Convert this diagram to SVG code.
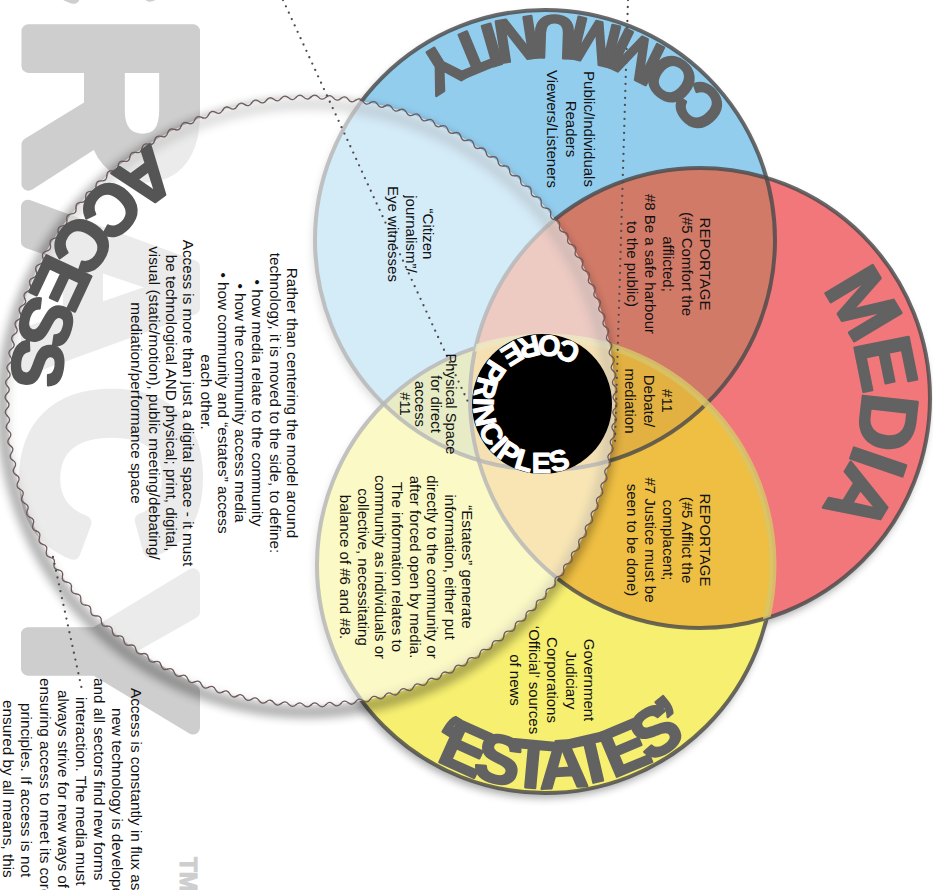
<svg xmlns="http://www.w3.org/2000/svg" width="933" height="890" viewBox="0 0 933 890">
<defs>
<style>
.txt{font-family:"Liberation Sans",Arial,Helvetica,sans-serif;font-size:15px;fill:#111}
.lbl{font-family:"Liberation Sans",Arial,Helvetica,sans-serif;font-weight:bold;fill:#626262;stroke:#626262;stroke-width:2.4;stroke-linejoin:round}
.wm{font-family:"Liberation Sans",Arial,Helvetica,sans-serif;font-weight:bold;fill:#cecece;stroke:#cecece;stroke-width:14;stroke-linejoin:round}
.ring{fill:none;stroke:#4a4a4a;stroke-opacity:.82;stroke-width:4}
.wave{fill:none;stroke:#6e5a5a;stroke-width:1.3;stroke-linecap:round}
.dots{fill:none;stroke:#4d4d4d;stroke-width:2.3;stroke-linecap:round;stroke-dasharray:0 7}
</style>
<clipPath id="cpBlue"><circle cx="545" cy="240" r="230"/></clipPath>
<clipPath id="cpRed"><circle cx="700" cy="398" r="230"/></clipPath>
<mask id="notRed"><rect width="933" height="890" fill="#fff"/><circle cx="700" cy="398" r="232" fill="#000"/></mask>
<filter id="soft" x="-20%" y="-20%" width="140%" height="140%"><feGaussianBlur stdDeviation="4"/></filter>
<filter id="lensBlur" x="-20%" y="-20%" width="140%" height="140%"><feGaussianBlur stdDeviation="5"/></filter>
<!-- one period of the wavy lens rim, repeated by rotation -->
<path id="w1" class="wave" d="M615,401 Q618.97,404.78 614.91,408.46 Q610.80,412.04 614.63,415.92"/>
<g id="w2"><use href="#w1"/><use href="#w1" transform="rotate(2.8125 311 401)"/></g>
<g id="w4"><use href="#w2"/><use href="#w2" transform="rotate(5.625 311 401)"/></g>
<g id="w8"><use href="#w4"/><use href="#w4" transform="rotate(11.25 311 401)"/></g>
<g id="w16"><use href="#w8"/><use href="#w8" transform="rotate(22.5 311 401)"/></g>
<g id="w32"><use href="#w16"/><use href="#w16" transform="rotate(45 311 401)"/></g>
<g id="w64"><use href="#w32"/><use href="#w32" transform="rotate(90 311 401)"/></g>
<g id="w128"><use href="#w64"/><use href="#w64" transform="rotate(180 311 401)"/></g>
<!-- label baselines -->
<path id="pCommunity" d="M729.3,109.7 A221,221 0 0 0 402.9,70.7"/>
<path id="pMedia" d="M820.3,290.4 A162,162 0 0 1 824.1,502.1"/>
<path id="pEstates" d="M424.5,752.9 A223,223 0 0 0 715.8,708.3"/>
<path id="pAccess" d="M152,144 A300,300 0 0 0 12.1,427.1"/>
<path id="pCore" d="M581.6,347.5 A69,69 0 0 0 502.4,460.5 A69,69 0 0 0 581.6,460.5"/>
</defs>

<rect width="933" height="890" fill="#fff"/>

<!-- background watermark -->
<g id="watermark">
<text class="wm" font-size="240" letter-spacing="12" transform="translate(28,-938) rotate(90)">DEMOCRACY</text>
<text class="wm" font-size="24" style="stroke-width:1" transform="translate(180,857) rotate(90)">TM</text>
</g>

<!-- venn circles -->
<g id="circle-shadow" filter="url(#soft)" opacity=".35" transform="translate(-2,5)">
<circle cx="545" cy="240" r="230"/><circle cx="700" cy="398" r="230"/><circle cx="545" cy="565" r="228"/>
</g>
<g id="community">
<circle cx="545" cy="240" r="230" fill="#93cdee"/>
</g>
<g id="media">
<circle cx="700" cy="398" r="230" fill="#f1777a"/>
</g>
<g id="estates">
<circle cx="545" cy="565" r="228" fill="#f6ef70"/>
</g>
<g id="overlaps">
<g clip-path="url(#cpBlue)"><circle cx="700" cy="398" r="230" fill="#d17a68"/></g>
<g clip-path="url(#cpRed)"><circle cx="545" cy="565" r="228" fill="#efbf43"/></g>
<g clip-path="url(#cpBlue)"><circle cx="545" cy="565" r="228" fill="#c4cf72"/></g>
<g clip-path="url(#cpBlue)"><g clip-path="url(#cpRed)"><circle cx="545" cy="565" r="228" fill="#e3b142"/></g></g>
</g>
<g id="rings">
<circle class="ring" cx="545" cy="240" r="230"/>
<circle class="ring" cx="700" cy="398" r="230"/>
<circle class="ring" cx="545" cy="565" r="228" mask="url(#notRed)"/>
<g clip-path="url(#cpRed)"><circle cx="545" cy="565" r="228" fill="none" stroke="#d6c468" stroke-width="7" stroke-opacity=".85"/></g>
</g>

<!-- access lens -->
<g id="access">
<circle cx="311" cy="401" r="304" fill="none" stroke="#000" stroke-width="12" opacity=".32" filter="url(#lensBlur)" transform="translate(-4,7)"/>
<circle cx="311" cy="401" r="304" fill="#fff" fill-opacity=".6"/>
<use href="#w128"/>
</g>

<!-- dotted leader lines -->
<g id="connectors">
<line class="dots" x1="283" y1="0" x2="468" y2="402"/>
<line class="dots" x1="628" y1="0" x2="615" y2="442"/>
<line class="dots" x1="53" y1="557" x2="82" y2="690"/>
</g>

<!-- core -->
<g id="core">
<circle cx="542" cy="404" r="70" fill="#000"/>
<text class="lbl" font-size="29" letter-spacing="1.5" style="fill:#fff;stroke:#fff;stroke-width:1"><textPath href="#pCore">CORE PRINCIPLES</textPath></text>
</g>

<!-- circle titles -->
<g id="titles">
<text class="lbl" font-size="61" letter-spacing="-2.5"><textPath href="#pCommunity">COMMUNITY</textPath></text>
<text class="lbl" font-size="80" letter-spacing="-5"><textPath href="#pMedia">MEDIA</textPath></text>
<text class="lbl" font-size="68" letter-spacing="-6"><textPath href="#pEstates">‘ESTATES’</textPath></text>
<text class="lbl" font-size="72" letter-spacing="-2" style="fill:#555;stroke:#555"><textPath href="#pAccess">ACCESS</textPath></text>
</g>

<!-- region texts (rotated a quarter turn) -->
<g id="t-community">
<text class="txt" text-anchor="middle" transform="translate(584,129) rotate(90)"><tspan x="0" y="0">Public/Individuals</tspan><tspan x="0" y="18.5">Readers</tspan><tspan x="0" y="37">Viewers/Listeners</tspan></text>
</g>
<g id="t-reportage-1">
<text class="txt" text-anchor="middle" transform="translate(700,264) rotate(90)"><tspan x="0" y="0">REPORTAGE</tspan><tspan x="0" y="18.3">(#5 Comfort the</tspan><tspan x="0" y="36.6">afflicted;</tspan><tspan x="0" y="54.9">#8 Be a safe harbour</tspan><tspan x="0" y="73.2">to the public)</tspan></text>
</g>
<g id="t-debate">
<text class="txt" text-anchor="middle" transform="translate(662,401) rotate(90)"><tspan x="0" y="0">#11</tspan><tspan x="0" y="18.5">Debate/</tspan><tspan x="0" y="37">mediation</tspan></text>
</g>
<g id="t-reportage-2">
<text class="txt" text-anchor="middle" transform="translate(700,540) rotate(90)"><tspan x="0" y="0">REPORTAGE</tspan><tspan x="0" y="18.3">(#5 Afflict the</tspan><tspan x="0" y="36.6">complacent;</tspan><tspan x="0" y="54.9">#7 Justice must be</tspan><tspan x="0" y="73.2">seen to be done)</tspan></text>
</g>
<g id="t-estates">
<text class="txt" text-anchor="middle" transform="translate(584,680) rotate(90)"><tspan x="0" y="0">Government</tspan><tspan x="0" y="18.5">Judiciary</tspan><tspan x="0" y="37">Corporations</tspan><tspan x="0" y="55.5">‘Official’ sources</tspan><tspan x="0" y="74">of news</tspan></text>
</g>
<g id="t-citizen">
<text class="txt" text-anchor="middle" transform="translate(423,234) rotate(90)"><tspan x="0" y="0">“Citizen</tspan><tspan x="0" y="17.5">journalism”/</tspan><tspan x="0" y="35">Eye witnesses</tspan></text>
</g>
<g id="t-physical">
<text class="txt" text-anchor="middle" transform="translate(446,404) rotate(90)" style="font-size:14.8px"><tspan x="0" y="0">Physical Space</tspan><tspan x="0" y="15.5">for direct</tspan><tspan x="0" y="31">access</tspan><tspan x="0" y="46.5">#11</tspan></text>
</g>
<g id="t-generate">
<text class="txt" text-anchor="middle" transform="translate(462,567) rotate(90)"><tspan x="0" y="0">“Estates” generate</tspan><tspan x="0" y="17.4">information, either put</tspan><tspan x="0" y="34.8">directly to the community or</tspan><tspan x="0" y="52.2">after forced open by media.</tspan><tspan x="0" y="69.6">The information relates to</tspan><tspan x="0" y="87">community as individuals or</tspan><tspan x="0" y="104.4">collective, necessitating</tspan><tspan x="0" y="121.8">balance of #6 and #8.</tspan></text>
</g>
<g id="t-access">
<text class="txt" text-anchor="middle" transform="translate(287,403) rotate(90)" style="font-size:15.3px"><tspan x="0" y="0">Rather than centering the model around</tspan><tspan x="0" y="17.3">technology, it is moved to the side, to define:</tspan><tspan x="0" y="34.6">• how media relate to the community</tspan><tspan x="0" y="51.9">• how the community access media</tspan><tspan x="0" y="69.2">• how community and “estates” access</tspan><tspan x="-11" y="86.5">each other.</tspan><tspan x="0" y="103.8">Access is more than just a digital space - it must</tspan><tspan x="0" y="121.1">be technological AND physical; print, digital,</tspan><tspan x="0" y="138.4">visual (static/motion), public meeting/debating/</tspan><tspan x="0" y="155.7">mediation/performance space</tspan></text>
</g>
<g id="t-flux">
<text class="txt" transform="translate(130.5,0) rotate(90)" style="font-size:15.3px"><tspan x="688" y="0">Access is constantly in flux as</tspan><tspan x="708" y="18.2">new technology is developed</tspan><tspan x="678" y="36.4">and all sectors find new forms</tspan><tspan x="697" y="54.6">interaction. The media must</tspan><tspan x="690" y="72.8">always strive for new ways of</tspan><tspan x="678" y="91">ensuring access to meet its core</tspan><tspan x="703" y="109.2">principles. If access is not</tspan><tspan x="700" y="127.4">ensured by all means, this</tspan></text>
</g>
</svg>
